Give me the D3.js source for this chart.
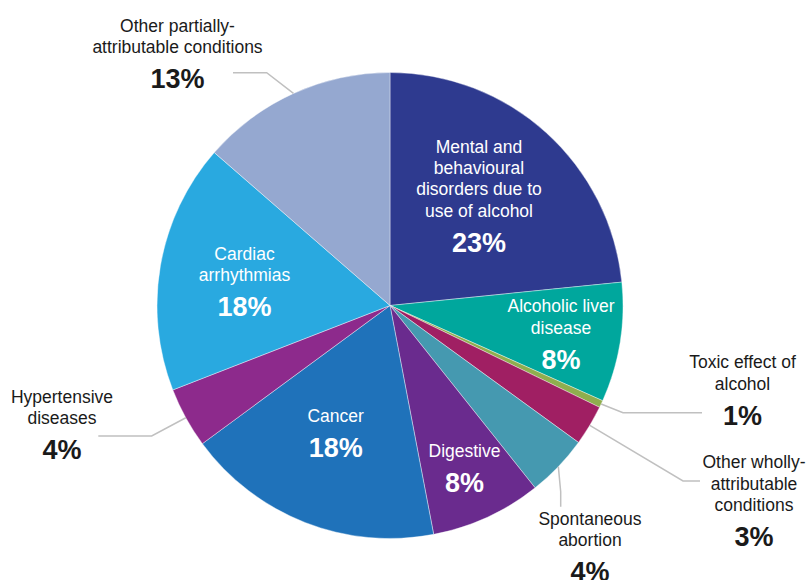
<!DOCTYPE html>
<html>
<head>
<meta charset="utf-8">
<script src="https://cdn.jsdelivr.net/npm/d3@7"></script>
<style>
  body { margin: 0; background: #fff; }
  text { font-family: "Liberation Sans", Arial, sans-serif; }
</style>
</head>
<body>
<div id="chart"></div>
<script>
const WIDTH = 809, HEIGHT = 580
const CX = 390, CY = 305.5, R = 233

// slices clockwise from 12 o'clock
const names = ["mental", "liver", "toxic", "wholly", "abortion", "digestive", "cancer", "hypertensive", "cardiac", "partial"]
const shares = [23.4, 8.3, 0.5, 2.8, 4.3, 7.7, 17.9, 4.2, 17.3, 13.6]
const pctLabels = ["23%", "8%", "1%", "3%", "4%", "8%", "18%", "4%", "18%", "13%"]
const textLines = [
  ["Mental and", "behavioural", "disorders due to", "use of alcohol"],
  ["Alcoholic liver", "disease"],
  ["Toxic effect of", "alcohol"],
  ["Other wholly-", "attributable", "conditions"],
  ["Spontaneous", "abortion"],
  ["Digestive"],
  ["Cancer"],
  ["Hypertensive", "diseases"],
  ["Cardiac", "arrhythmias"],
  ["Other partially-", "attributable conditions"]
]
const colors = ["#2e3a8f", "#00a79d", "#8fae4e", "#a01f63", "#4599b0", "#6a2b8e", "#1f72ba", "#8d2a8c", "#29a9e0", "#95a8d0"]

// label placement: x centre, first baseline, inside or outside, leader elbow points
const layout = {
  mental:       {x: 479,   y: 152.7, inside: true},
  liver:        {x: 561,   y: 312.3, inside: true},
  toxic:        {x: 742.5, y: 368.3, leader: [[623, 412.7], [702, 412.7]]},
  wholly:       {x: 754,   y: 468.3, leader: [[683, 481], [700, 481]]},
  abortion:     {x: 590,   y: 525,   leader: [[560.7, 491.7], [560.7, 506.7]]},
  digestive:    {x: 464.5, y: 456.7, inside: true},
  cancer:       {x: 335.7, y: 421.7, inside: true},
  hypertensive: {x: 62,    y: 402.7, leader: [[151.7, 436], [98.3, 436]]},
  cardiac:      {x: 244.5, y: 260,   inside: true},
  partial:      {x: 177.5, y: 31.7,  leader: [[266.7, 72.7], [233, 72.7]]}
}

const data = names.map((n, i) => ({name: n, value: shares[i], pct: pctLabels[i], lines: textLines[i], color: colors[i]}))

const svg = d3.select("#chart").append("svg")
    .attr("width", WIDTH)
    .attr("height", HEIGHT)

const pie = d3.pie().sort(null).value(d => d.value)
const arcs = pie(data)

const arc = d3.arc().innerRadius(0).outerRadius(R)
const edge = d3.arc().innerRadius(R).outerRadius(R)

const g = svg.append("g").attr("transform", `translate(${CX},${CY})`)

g.selectAll("path.slice")
  .data(arcs).enter()
  .append("path")
    .attr("class", "slice")
    .attr("d", arc)
    .attr("fill", d => d.data.color)
    .attr("stroke", "#fff")
    .attr("stroke-width", 0.4)

// leader lines for outside labels
const line = d3.line()
svg.selectAll("path.leader")
  .data(arcs.filter(d => !layout[d.data.name].inside)).enter()
  .append("path")
    .attr("class", "leader")
    .attr("d", d => {
      const c = edge.centroid(d)
      return line([[CX + c[0], CY + c[1]], ...layout[d.data.name].leader])
    })
    .attr("fill", "none")
    .attr("stroke", "#c0c0c0")
    .attr("stroke-width", 1.5)

// labels
arcs.forEach(d => {
  const L = layout[d.data.name]
  const col = L.inside ? "#fff" : "#1a1a1a"
  const t = svg.append("g")
  d.data.lines.forEach((s, i) => {
    t.append("text")
      .attr("x", L.x)
      .attr("y", L.y + i * 21.3)
      .attr("text-anchor", "middle")
      .attr("font-size", 17.5)
      .attr("fill", col)
      .text(s)
  })
  t.append("text")
    .attr("x", L.x)
    .attr("y", L.y + (d.data.lines.length - 1) * 21.3 + 35)
    .attr("text-anchor", "middle")
    .attr("font-size", 27)
    .attr("font-weight", "bold")
    .attr("fill", col)
    .text(d.data.pct)
})
</script>
</body>
</html>
